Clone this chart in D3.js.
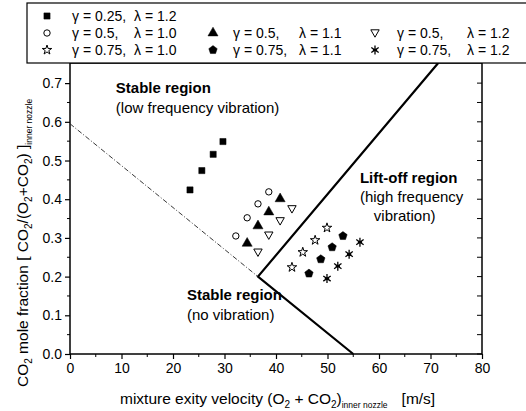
<!DOCTYPE html>
<html><head><meta charset="utf-8">
<script src="https://cdn.jsdelivr.net/npm/d3@7"></script>
<style>
body{margin:0;background:#fff}
text{font-family:"Liberation Sans",Arial,sans-serif;fill:#000}
</style>
</head><body><script>
// series: [velocity m/s, CO2 mole fraction]
const g025_l12 = [[23.3,0.424],[25.6,0.474],[27.8,0.516],[29.7,0.549]];
const g05_l10  = [[32.2,0.305],[34.4,0.352],[36.5,0.388],[38.6,0.419]];
const g05_l11  = [[34.4,0.286],[36.5,0.331],[38.6,0.367],[40.8,0.401]];
const g05_l12  = [[36.5,0.263],[38.6,0.307],[40.8,0.344],[43.1,0.375]];
const g075_l10 = [[43.1,0.224],[45.2,0.263],[47.6,0.294],[49.9,0.326]];
const g075_l11 = [[46.4,0.208],[48.7,0.245],[50.9,0.276],[53.0,0.305]];
const g075_l12 = [[49.9,0.195],[52.0,0.227],[54.2,0.258],[56.3,0.289]];

const liftoffLine = [[71.5,0.752],[36.5,0.2],[55,0]];
const noVibLine = [[0,0.595],[36.5,0.2]];

const xTicks = [0,10,20,30,40,50,60,70,80];
const yTicks = [0,0.1,0.2,0.3,0.4,0.5,0.6,0.7];

const series = [
  {name:"g025_l12", data:g025_l12, sym:"square",  gamma:"γ = 0.25,", lambda:"λ = 1.2"},
  {name:"g05_l10",  data:g05_l10,  sym:"circle",  gamma:"γ = 0.5,",  lambda:"λ = 1.0"},
  {name:"g05_l11",  data:g05_l11,  sym:"triangle",gamma:"γ = 0.5,",  lambda:"λ = 1.1"},
  {name:"g05_l12",  data:g05_l12,  sym:"tridown", gamma:"γ = 0.5,",  lambda:"λ = 1.2"},
  {name:"g075_l10", data:g075_l10, sym:"star",    gamma:"γ = 0.75,", lambda:"λ = 1.0"},
  {name:"g075_l11", data:g075_l11, sym:"pentagon",gamma:"γ = 0.75,", lambda:"λ = 1.1"},
  {name:"g075_l12", data:g075_l12, sym:"asterisk",gamma:"γ = 0.75,", lambda:"λ = 1.2"}
];

const W = 526, H = 411;
const m = {left:70, right:44, top:63, bottom:57};

const svg = d3.select("body").append("svg").attr("width", W).attr("height", H);

const x = d3.scaleLinear().domain([0,80]).range([m.left, W - m.right]);
const y = d3.scaleLinear().domain([0,0.752]).range([H - m.bottom, m.top]);

// symbol paths
function symPath(s) {
  if (s === "square") return d3.symbol(d3.symbolSquare, 38)();
  if (s === "circle") return d3.symbol(d3.symbolCircle, 32)();
  if (s === "triangle") return d3.symbol(d3.symbolTriangle, 44)();
  if (s === "star") return d3.symbol(d3.symbolStar, 28)();
  if (s === "tridown") return "M-4.2,-3.2L4.2,-3.2L0,4.2Z";
  if (s === "pentagon") {
    let p = d3.range(5).map(i => {
      let a = -Math.PI/2 + i*2*Math.PI/5;
      return [4.4*Math.cos(a), 4.4*Math.sin(a)];
    });
    return "M" + p.join("L") + "Z";
  }
  if (s === "asterisk") {
    let d = "";
    [90, 35, 145].forEach(deg => {
      let a = deg*Math.PI/180, r = 4.5;
      d += "M" + (r*Math.cos(a)) + "," + (r*Math.sin(a)) + "L" + (-r*Math.cos(a)) + "," + (-r*Math.sin(a));
    });
    d += "M-2.2,0L2.2,0";
    return d;
  }
}
const filled = {square:true, triangle:true, pentagon:true};

function drawSym(g, s) {
  g.append("path").attr("d", symPath(s))
    .attr("fill", filled[s] ? "#000" : "#fff")
    .attr("stroke", "#000")
    .attr("stroke-width", filled[s] ? 0.5 : (s === "asterisk" ? 1.3 : 1));
}

// axes
const yAxisL = d3.axisLeft(y).tickValues(yTicks).tickFormat(d3.format(".1f")).tickSize(5).tickPadding(3);
const yMinor = d3.range(0.05, 0.75, 0.1);
svg.append("g").attr("transform", `translate(${m.left},0)`).call(yAxisL)
  .call(g => g.select(".domain").remove());
svg.append("g").selectAll("line").data(yMinor).enter().append("line")
  .attr("x1", m.left - 3).attr("x2", m.left)
  .attr("y1", d => y(d)).attr("y2", d => y(d)).attr("stroke", "#000");
// right side ticks inward
svg.append("g").selectAll("line").data(yTicks.concat(yMinor)).enter().append("line")
  .attr("x1", W - m.right - 5).attr("x2", W - m.right)
  .attr("y1", d => y(d)).attr("y2", d => y(d)).attr("stroke", "#000");

const xAxis = d3.axisBottom(x).tickValues(xTicks).tickSize(5).tickPadding(4);
svg.append("g").attr("transform", `translate(0,${H - m.bottom})`).call(xAxis)
  .call(g => g.select(".domain").remove());
svg.append("g").selectAll("line").data(d3.range(5, 80, 10)).enter().append("line")
  .attr("x1", d => x(d)).attr("x2", d => x(d))
  .attr("y1", H - m.bottom).attr("y2", H - m.bottom + 3).attr("stroke", "#000");
svg.selectAll(".tick text").attr("font-size", 14).attr("font-family", "Liberation Sans, Arial, sans-serif");
svg.selectAll(".tick line").attr("stroke-width", 1.2);

// frame
svg.append("rect").attr("x", m.left).attr("y", m.top)
  .attr("width", W - m.left - m.right).attr("height", H - m.top - m.bottom)
  .attr("fill", "none").attr("stroke", "#000").attr("stroke-width", 1.5);

// region boundaries
const line = d3.line().x(d => x(d[0])).y(d => y(d[1]));
svg.append("path").datum(liftoffLine).attr("d", line)
  .attr("fill", "none").attr("stroke", "#000").attr("stroke-width", 2.2);
svg.append("path").datum(noVibLine).attr("d", line)
  .attr("fill", "none").attr("stroke", "#222").attr("stroke-width", 0.9)
  .attr("stroke-dasharray", "5,2,1,2");

// points
series.forEach(s => {
  svg.append("g").selectAll("g").data(s.data).enter().append("g")
    .attr("transform", d => `translate(${x(d[0])},${y(d[1])})`)
    .each(function() { drawSym(d3.select(this), s.sym); });
});

// region labels
const notes = [
  {t:"Stable region", vx:8.9, vy:0.674, b:true},
  {t:"(low frequency vibration)", vx:8.9, vy:0.623},
  {t:"Lift-off region", vx:56.3, vy:0.442, b:true},
  {t:"(high frequency", vx:56.3, vy:0.393},
  {t:"vibration)", vx:59.0, vy:0.344},
  {t:"Stable region", vx:22.7, vy:0.140, b:true},
  {t:"(no vibration)", vx:22.7, vy:0.088}
];
svg.append("g").selectAll("text").data(notes).enter().append("text")
  .attr("x", d => x(d.vx)).attr("y", d => y(d.vy))
  .attr("font-size", 15).attr("font-weight", d => d.b ? "bold" : "normal")
  .text(d => d.t);

// axis titles
const xt = svg.append("text").attr("x", 120).attr("y", 404).attr("font-size", 15.5);
xt.append("tspan").text("mixture exity velocity (O");
xt.append("tspan").attr("font-size", 10).attr("dy", 4).text("2");
xt.append("tspan").attr("dy", -4).text(" + CO");
xt.append("tspan").attr("font-size", 10).attr("dy", 4).text("2");
xt.append("tspan").attr("dy", -4).text(")");
xt.append("tspan").attr("font-size", 8.5).attr("dy", 4).text("inner nozzle");
xt.append("tspan").attr("dy", -4).attr("dx", 14).text("[m/s]");

const yt = svg.append("text").attr("transform", "translate(28,387) rotate(-90)").attr("font-size", 15.5);
yt.append("tspan").text("CO");
yt.append("tspan").attr("font-size", 10).attr("dy", 4).text("2");
yt.append("tspan").attr("dy", -4).text(" mole fraction [ CO");
yt.append("tspan").attr("font-size", 10).attr("dy", 4).text("2");
yt.append("tspan").attr("dy", -4).text("/(O");
yt.append("tspan").attr("font-size", 10).attr("dy", 4).text("2");
yt.append("tspan").attr("dy", -4).text("+CO");
yt.append("tspan").attr("font-size", 10).attr("dy", 4).text("2");
yt.append("tspan").attr("dy", -4).text(") ]");
yt.append("tspan").attr("font-size", 8.5).attr("dy", 4).text("inner nozzle");

// legend
const lg = svg.append("g");
lg.append("rect").attr("x", 27).attr("y", 3).attr("width", 520).attr("height", 60)
  .attr("fill", "#fff").attr("stroke", "#000").attr("stroke-width", 1.2);
const slots = [[0,0],[0,1],[1,1],[2,1],[0,2],[1,2],[2,2]];
const colSym = [47, 213, 375], colG = [72, 233, 397], colL = [134, 299, 467];
const rowY = [16, 33, 50];
series.forEach((s, i) => {
  const c = slots[i][0], r = slots[i][1];
  const g = lg.append("g").attr("transform", `translate(${colSym[c]},${rowY[r]})`);
  drawSym(g, s.sym);
  lg.append("text").attr("x", colG[c]).attr("y", rowY[r] + 5).attr("font-size", 14).text(s.gamma);
  lg.append("text").attr("x", colL[c]).attr("y", rowY[r] + 5).attr("font-size", 14).text(s.lambda);
});
</script></body></html>
